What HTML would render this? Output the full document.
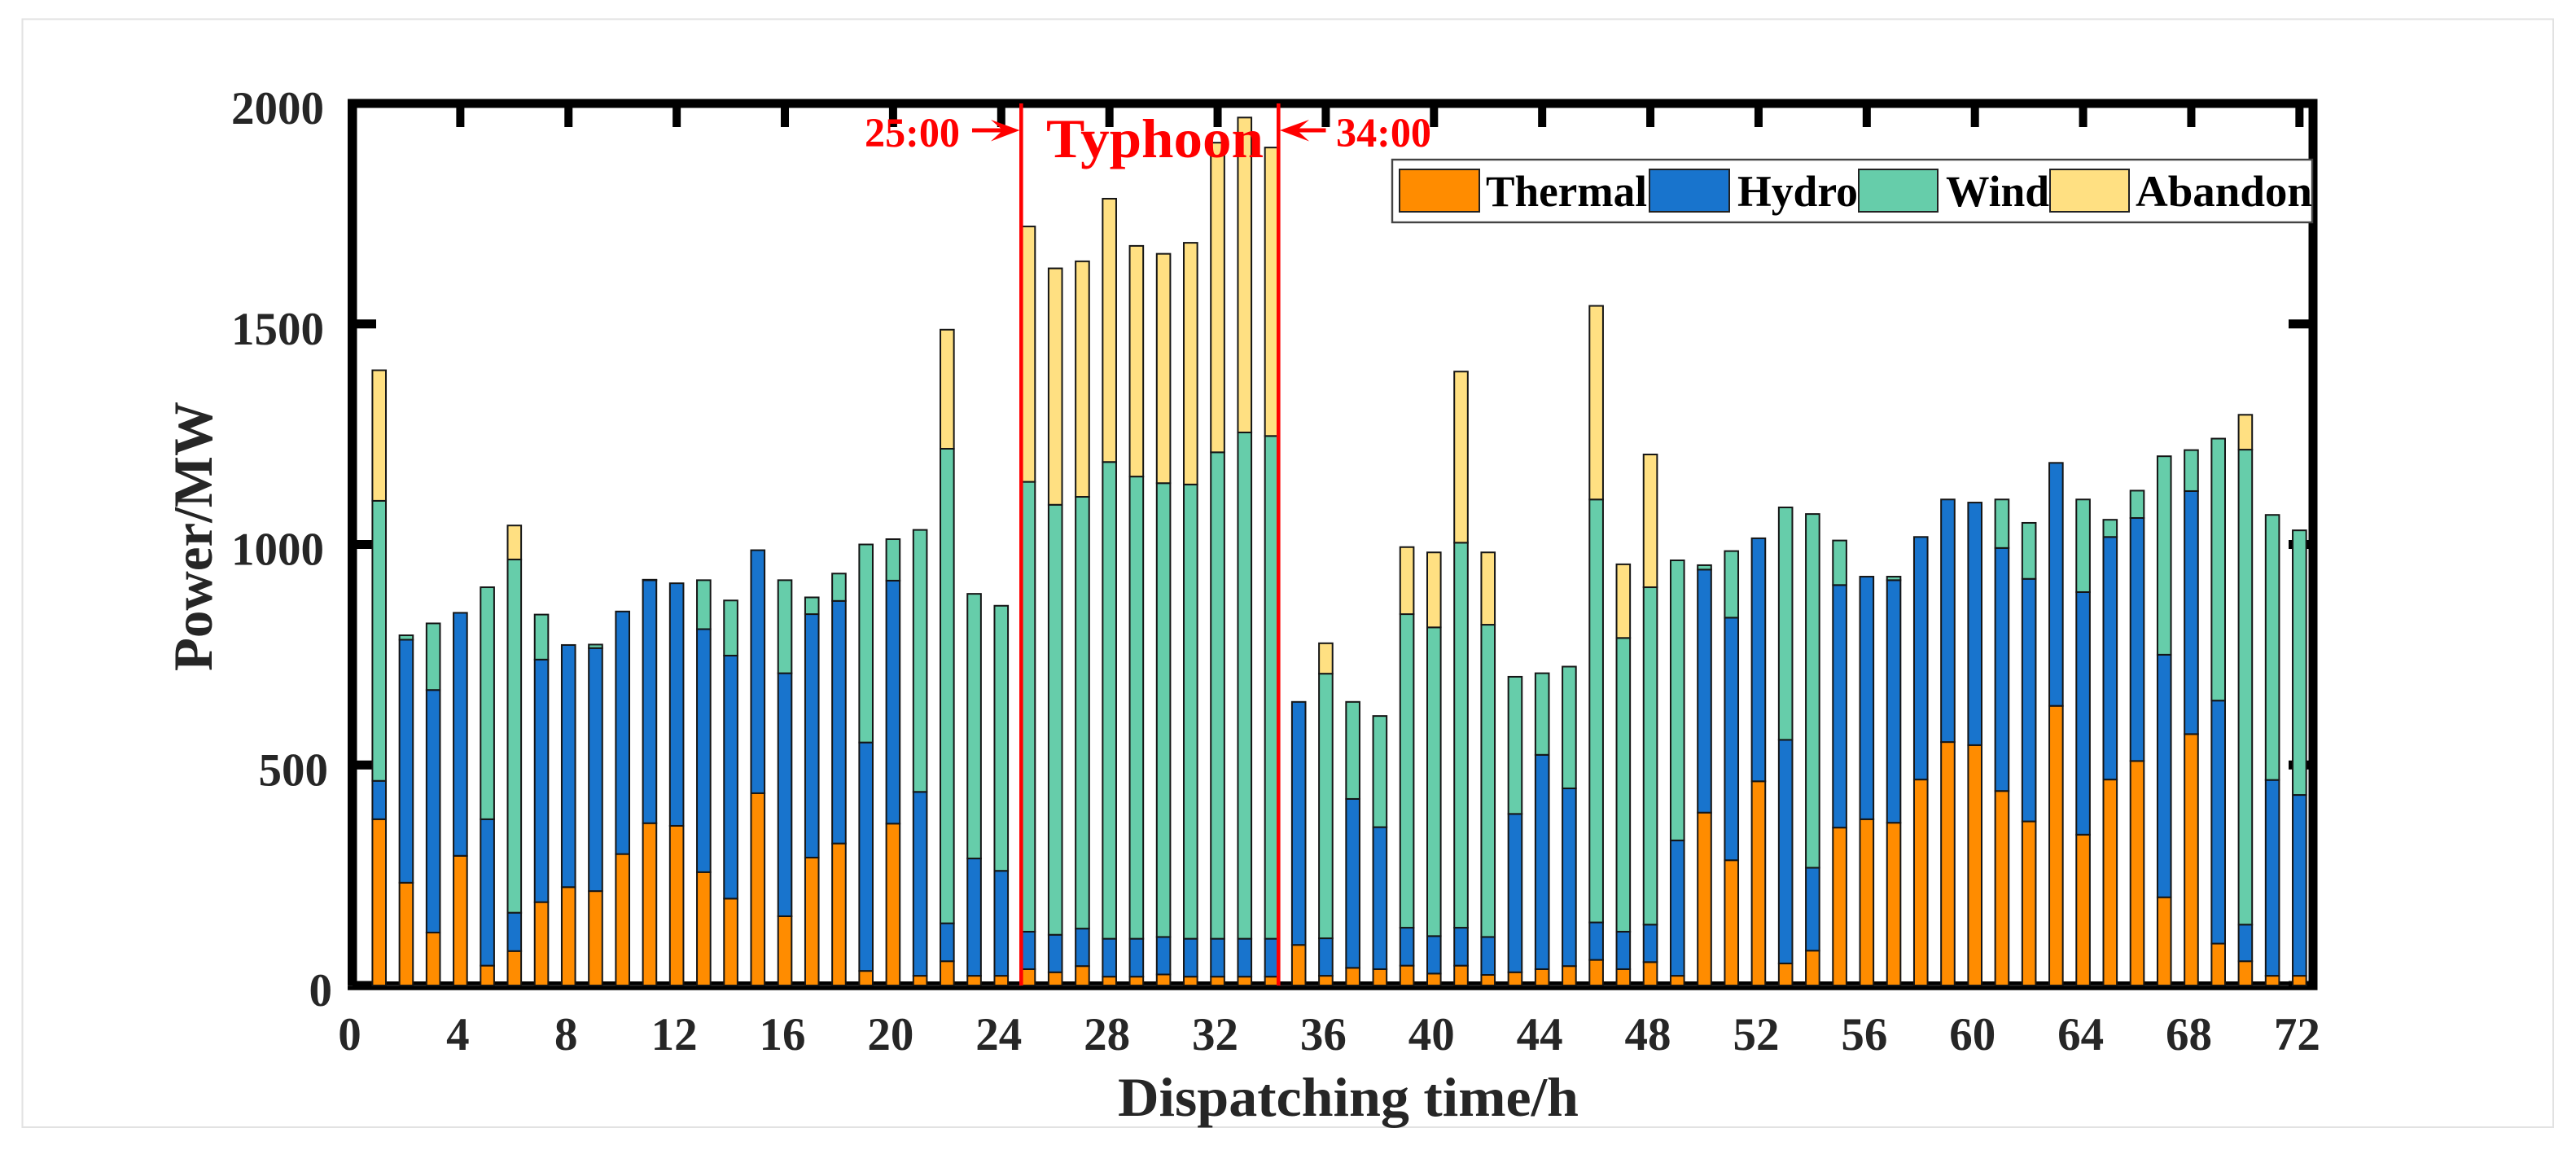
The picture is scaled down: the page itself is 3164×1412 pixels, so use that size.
<!DOCTYPE html>
<html lang="en">
<head>
<meta charset="utf-8">
<title>Power dispatch stacked bar chart</title>
<style>
html,body{margin:0;padding:0;background:#fff;width:3164px;height:1412px;overflow:hidden}
svg{display:block}
text{font-family:"Liberation Serif",serif;font-weight:bold}
</style>
</head>
<body>
<svg id="chart" xmlns="http://www.w3.org/2000/svg" width="3164" height="1412" viewBox="0 0 3164 1412">
  <rect x="0" y="0" width="3164" height="1412" fill="#fff"/>
  <rect x="27.5" y="23.5" width="3108.5" height="1360.5" fill="none" stroke="#e2e2e2" stroke-width="2"/>
  <g id="axes-layer">
    <rect x="427" y="121.5" width="11.5" height="1094" fill="#000"/>
    <rect x="427" y="121.5" width="2419.5" height="11" fill="#000"/>
    <rect x="2835.5" y="121.5" width="11" height="1094" fill="#000"/>
    <rect x="427" y="1205" width="2419.5" height="10.7" fill="#000"/>
    <rect x="427" y="1209" width="2410" height="2" fill="#222"/>
  </g>
  <g id="bars-layer"></g>
  <g id="labels-layer" fill="#262626" font-size="57"></g>
  <text transform="translate(260 824) rotate(-90)" font-size="68" fill="#262626" textLength="331" lengthAdjust="spacingAndGlyphs">Power/MW</text>
  <text x="1373" y="1370" font-size="68" fill="#262626" textLength="566" lengthAdjust="spacingAndGlyphs">Dispatching time/h</text>

  <g fill="#ff0000">
    <rect x="1252" y="127" width="4.6" height="1083"/>
    <rect x="1568" y="127" width="4.6" height="1083"/>
    <polygon points="1194,157.5 1229,157.5 1217,147 1252.5,160 1217,173.5 1229,162.5 1194,162.5"/>
    <polygon points="1628.5,157.5 1596,157.5 1608,147 1572,160 1608,173.5 1596,162.5 1628.5,162.5"/>
    <text x="1062" y="180" font-size="51" textLength="117" lengthAdjust="spacingAndGlyphs">25:00</text>
    <text x="1641" y="180" font-size="51" textLength="117" lengthAdjust="spacingAndGlyphs">34:00</text>
    <text x="1285" y="193" font-size="68" textLength="267" lengthAdjust="spacingAndGlyphs">Typhoon</text>
  </g>

  <g>
    <rect x="1710" y="196" width="1130" height="77" fill="#fff" stroke="#444" stroke-width="2.4"/>
    <g>
      <rect x="1719" y="208" width="98" height="52" fill="#FF8C00" stroke="#222" stroke-width="2"/>
      <text x="1825" y="253" font-size="54" fill="#000" textLength="198" lengthAdjust="spacingAndGlyphs">Thermal</text>
    </g>
    <g>
      <rect x="2026" y="208" width="98" height="52" fill="#1874CD" stroke="#222" stroke-width="2"/>
      <text x="2134" y="253" font-size="54" fill="#000" textLength="148" lengthAdjust="spacingAndGlyphs">Hydro</text>
    </g>
    <g>
      <rect x="2283" y="208" width="97" height="52" fill="#66CDAA" stroke="#222" stroke-width="2"/>
      <text x="2390" y="253" font-size="54" fill="#000" textLength="127" lengthAdjust="spacingAndGlyphs">Wind</text>
    </g>
    <g>
      <rect x="2518" y="208" width="97" height="52" fill="#FFE082" stroke="#222" stroke-width="2"/>
      <text x="2623" y="253" font-size="54" fill="#000" textLength="217" lengthAdjust="spacingAndGlyphs">Abandon</text>
    </g>
  </g>
</svg>
<script>
const hours = [1,2,3,4,5,6,7,8,9,10,11,12,13,14,15,16,17,18,19,20,21,22,23,24,25,26,27,28,29,30,31,32,33,34,35,36,37,38,39,40,41,42,43,44,45,46,47,48,49,50,51,52,53,54,55,56,57,58,59,60,61,62,63,64,65,66,67,68,69,70,71,72];
const thermal = [377,233,120,294,45,78,189,223,214,298,368,362,257,197,436,157,290,322,33,367,22,55,22,22,37,30,44,20,20,25,20,20,20,20,92,22,40,37,45,27,45,24,30,37,44,58,37,53,22,392,284,463,50,79,358,377,369,467,552,545,441,372,634,342,467,509,200,570,95,55,22,22];
const hydro = [87,551,550,551,332,87,550,549,551,550,551,550,551,551,551,551,552,550,518,551,417,86,266,238,85,85,85,86,86,85,86,86,86,86,551,85,383,322,86,85,86,86,359,486,403,85,85,85,307,551,550,551,507,188,550,550,550,550,550,550,551,550,551,550,550,551,550,551,551,83,444,410];
const wind = [635,10,151,0,526,801,102,0,8,0,1,0,111,125,0,211,38,62,449,94,594,1076,600,601,1020,975,979,1081,1048,1029,1030,1103,1148,1140,0,600,220,252,711,700,873,708,311,185,276,959,666,765,635,10,151,0,527,802,101,0,8,0,0,0,110,127,0,210,39,62,450,93,594,1077,601,600];
const abandon = [296,0,0,0,0,77,0,0,0,0,0,0,0,0,0,0,0,0,0,0,0,270,0,0,579,536,534,597,523,520,548,702,714,654,0,69,0,0,152,170,388,164,0,0,0,439,167,301,0,0,0,0,0,0,0,0,0,0,0,0,0,0,0,0,0,0,0,0,0,79,0,0];
const xTickLabels = [0,4,8,12,16,20,24,28,32,36,40,44,48,52,56,60,64,68,72];
const xMajorTicks = [0,4,8,12,16,20,24,28,32,36,40,44,48,52,56,60,64,68,72];
const yTickLabels = [0,500,1000,1500,2000];
const seriesNames = ['thermal','hydro','wind','abandon'];
const seriesColors = ['#FF8C00','#1874CD','#66CDAA','#FFE082'];

const NS = 'http://www.w3.org/2000/svg';
const xScale = h => 432.5 + h * 33.22;
const yScale = v => 1210 - v * 0.5415;
const BAR_UNITS = 0.5;
const TICK_LEN = 29;

const axesLayer = document.getElementById('axes-layer');
const barsLayer = document.getElementById('bars-layer');
const labelsLayer = document.getElementById('labels-layer');

function makeRect(parent, x, y, w, h, fill) {
  const r = document.createElementNS(NS, 'rect');
  r.setAttribute('x', x);
  r.setAttribute('y', y);
  r.setAttribute('width', w);
  r.setAttribute('height', h);
  r.setAttribute('fill', fill);
  parent.appendChild(r);
  return r;
}

function makeText(parent, x, y, anchor, content) {
  const t = document.createElementNS(NS, 'text');
  t.setAttribute('x', x);
  t.setAttribute('y', y);
  t.setAttribute('text-anchor', anchor);
  t.textContent = content;
  parent.appendChild(t);
  return t;
}

xMajorTicks.forEach(h => {
  const topTick = makeRect(axesLayer, xScale(h) - 5, 127, 10, TICK_LEN, '#000');
  
  
  const bottomTick = makeRect(axesLayer, xScale(h) - 5, 1210 - TICK_LEN, 10, TICK_LEN, '#000');
  
  
});

yTickLabels.forEach(v => {
  const leftTick = makeRect(axesLayer, 433, yScale(v) - 5.5, TICK_LEN, 11, '#000');
  
  
  const rightTick = makeRect(axesLayer, 2840 - TICK_LEN, yScale(v) - 5.5, TICK_LEN, 11, '#000');
  
  
});

xTickLabels.forEach(h => {
  const label = makeText(labelsLayer, xScale(h) - 3, 1289, 'middle', String(h));
  
  
});

yTickLabels.forEach(v => {
  const right = v >= 1000 ? 398 : (v === 500 ? 403 : 408);
  const label = makeText(labelsLayer, right, yScale(v) + 25, 'end', String(v));
  
  
});

const allSeries = [thermal, hydro, wind, abandon];
hours.forEach((h, i) => {
  const barW = BAR_UNITS * (xScale(1) - xScale(0));
  let base = 0;
  allSeries.forEach((values, s) => {
    const top = base + values[i];
    const seg = makeRect(barsLayer, xScale(h) - barW / 2, yScale(top), barW, yScale(base) - yScale(top), seriesColors[s]);
    seg.setAttribute('stroke', '#151515');
    seg.setAttribute('stroke-width', '2');
    
    
    base = top;
  });
});
</script>
</body>
</html>
